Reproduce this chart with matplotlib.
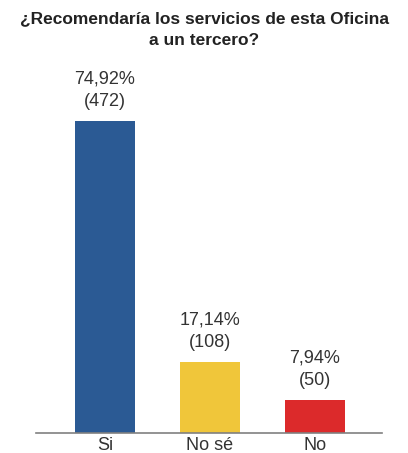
import matplotlib
matplotlib.use("Agg")
import matplotlib.pyplot as plt

categories = ["Si", "No sé", "No"]
percentages = [74.92, 17.14, 7.94]
counts = [472, 108, 50]
colors = ["#2b5a94", "#f0c63a", "#dc2a2b"]
title = "¿Recomendaría los servicios de esta Oficina\na un tercero?"

plt.rcParams['font.family'] = ['Liberation Sans', 'DejaVu Sans']

W, H = 408, 453
fig = plt.figure(figsize=(W / 100, H / 100), dpi=100)
ax_left, ax_right = 36 / W, 382 / W
ax_bottom, ax_top = 20 / H, (H - 60) / H
ax = fig.add_axes([ax_left, ax_bottom, ax_right - ax_left, ax_top - ax_bottom])

x = list(range(len(categories)))
ax.bar(x, percentages, width=0.571, color=colors)
ax.set_xlim(-0.657, 2.638)
ax.set_ylim(0, 373 / 4.164)

for xi, p, c in zip(x, percentages, counts):
    label = f"{p:.2f}".replace(".", ",") + f"%\n({c})"
    ax.annotate(label, (xi, p), xytext=(0, 11), textcoords="offset pixels",
                ha="center", va="bottom", fontsize=13, color="#333333",
                linespacing=1.4)

for s in ["top", "right", "left"]:
    ax.spines[s].set_visible(False)
ax.spines["bottom"].set_color("#808080")
ax.spines["bottom"].set_linewidth(1.2)
ax.set_yticks([])
ax.set_xticks(x)
ax.set_xticklabels(categories, fontsize=13, color="#333333")
ax.tick_params(axis="x", length=0, pad=3)

fig.text(0.5, (H - 11) / H, title, ha="center", va="top", fontsize=12.5,
         fontweight="bold", color="#222222", linespacing=1.6)

fig.savefig("out.png", dpi=100)
